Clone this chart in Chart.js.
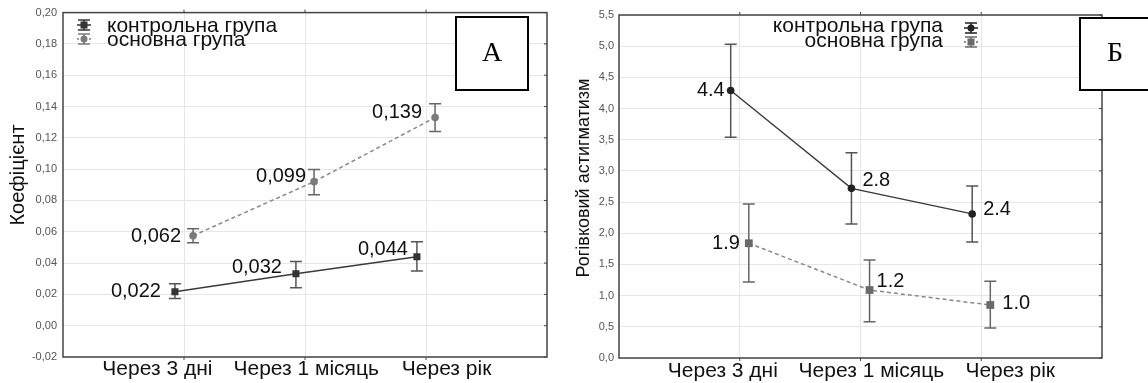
<!DOCTYPE html>
<html>
<head>
<meta charset="utf-8">
<script src="https://cdn.jsdelivr.net/npm/chart.js@4.4.0/dist/chart.umd.min.js"></script>
<style>
  html, body { margin: 0; padding: 0; background: #fff; }
  #wrap { position: relative; width: 1148px; height: 383px; overflow: hidden; }
  #chartA { position: absolute; left: 0; top: 0; }
  #chartB { position: absolute; left: 560px; top: 0; }
</style>
</head>
<body>
<div id="wrap">
  <canvas id="chartA" width="560" height="383"></canvas>
  <canvas id="chartB" width="588" height="383"></canvas>
</div>
<script>
// ==================== ДАНІ ====================

const categories = ['Через 3 дні', 'Через 1 місяць', 'Через рік'];
const legendNames = ['контрольна група', 'основна група'];

// Панель А – коефіцієнт
const coefCtrl = [0.0217, 0.0332, 0.044];
const coefCtrlLow = [0.0173, 0.0243, 0.035];
const coefCtrlHigh = [0.0268, 0.041, 0.0537];
const coefCtrlLabels = ['0,022', '0,032', '0,044'];

const coefMain = [0.0575, 0.092, 0.133];
const coefMainLow = [0.053, 0.0837, 0.124];
const coefMainHigh = [0.062, 0.0997, 0.1418];
const coefMainLabels = ['0,062', '0,099', '0,139'];

// Панель Б – рогівковий астигматизм
const astCtrl = [4.29, 2.72, 2.31];
const astCtrlLow = [3.54, 2.15, 1.86];
const astCtrlHigh = [5.03, 3.29, 2.76];
const astCtrlLabels = ['4.4', '2.8', '2.4'];

const astMain = [1.84, 1.09, 0.85];
const astMainLow = [1.22, 0.58, 0.48];
const astMainHigh = [2.47, 1.57, 1.23];
const astMainLabels = ['1.9', '1.2', '1.0'];

const FONT = "'Liberation Sans', Arial, sans-serif";
const SERIF = "'Liberation Serif', 'Times New Roman', serif";

// точки: позиція категорії (1..3) + невеликий зсув групи
function toPoints(values, dodge) {
  return values.map((v, i) => ({ x: i + 1 + dodge, y: v }));
}

// ==================== ПЛАГІНИ ====================

const errorBarsPlugin = {
  id: 'errorBars',
  beforeDatasetsDraw(chart) {
    const ctx = chart.ctx;
    const yScale = chart.scales.y;
    chart.data.datasets.forEach((ds, i) => {
      if (!ds.errLow) return;
      const meta = chart.getDatasetMeta(i);
      ctx.save();
      ctx.strokeStyle = ds.errColor;
      ctx.lineWidth = 1.5;
      meta.data.forEach((pt, j) => {
        const yl = yScale.getPixelForValue(ds.errLow[j]);
        const yh = yScale.getPixelForValue(ds.errHigh[j]);
        ctx.beginPath();
        ctx.moveTo(pt.x, yl); ctx.lineTo(pt.x, yh);
        ctx.moveTo(pt.x - 6, yl); ctx.lineTo(pt.x + 6, yl);
        ctx.moveTo(pt.x - 6, yh); ctx.lineTo(pt.x + 6, yh);
        ctx.stroke();
      });
      ctx.restore();
    });
  }
};

const valueLabelsPlugin = {
  id: 'valueLabels',
  afterDatasetsDraw(chart) {
    const ctx = chart.ctx;
    chart.data.datasets.forEach((ds, i) => {
      if (!ds.valueLabels) return;
      const meta = chart.getDatasetMeta(i);
      ctx.save();
      ctx.font = '20px ' + FONT;
      ctx.fillStyle = '#111';
      ctx.textBaseline = 'middle';
      meta.data.forEach((pt, j) => {
        const off = ds.labelOffsets[j];
        ctx.textAlign = off[0] < 0 ? 'right' : 'left';
        ctx.fillText(ds.valueLabels[j], pt.x + off[0], pt.y + off[1]);
      });
      ctx.restore();
    });
  }
};

function drawIcon(ctx, cx, cy, item) {
  ctx.save();
  ctx.strokeStyle = item.color;
  ctx.lineWidth = 1.5;
  if (item.dashed) ctx.setLineDash([2, 2]);
  ctx.beginPath();
  ctx.moveTo(cx - 7, cy); ctx.lineTo(cx + 7, cy);
  ctx.stroke();
  ctx.setLineDash([]);
  ctx.beginPath();
  ctx.moveTo(cx - 6, cy - 5); ctx.lineTo(cx + 6, cy - 5);
  ctx.moveTo(cx - 6, cy + 5); ctx.lineTo(cx + 6, cy + 5);
  ctx.moveTo(cx, cy - 5); ctx.lineTo(cx, cy + 5);
  ctx.stroke();
  ctx.fillStyle = item.color;
  if (item.marker === 'rect') ctx.fillRect(cx - 3.5, cy - 3.5, 7, 7);
  else { ctx.beginPath(); ctx.arc(cx, cy, 3.5, 0, Math.PI * 2); ctx.fill(); }
  ctx.restore();
}

const framePlugin = {
  id: 'frame',
  afterDraw(chart, args, opts) {
    const ctx = chart.ctx;
    const a = chart.chartArea;
    const xs = chart.scales.x, ys = chart.scales.y;
    ctx.save();
    // рамка області побудови
    ctx.strokeStyle = '#444';
    ctx.lineWidth = 1.5;
    ctx.strokeRect(a.left, a.top, a.right - a.left, a.bottom - a.top);
    // дрібні засічки
    ctx.lineWidth = 1;
    ctx.beginPath();
    ys.ticks.forEach(t => {
      const py = ys.getPixelForValue(t.value);
      ctx.moveTo(a.right, py); ctx.lineTo(a.right - 3, py);
    });
    [1, 2, 3].forEach(v => {
      const px = xs.getPixelForValue(v);
      ctx.moveTo(px, a.top); ctx.lineTo(px, a.top - 3);
      ctx.moveTo(px, a.bottom); ctx.lineTo(px, a.bottom + 3);
    });
    ctx.stroke();

    // назва осі Y
    const t = opts.yTitle;
    ctx.save();
    ctx.translate(t.x, t.y);
    ctx.rotate(-Math.PI / 2);
    ctx.font = t.size + 'px ' + FONT;
    ctx.fillStyle = '#111';
    ctx.textAlign = 'center';
    ctx.textBaseline = 'middle';
    ctx.fillText(t.text, 0, 0);
    ctx.restore();

    // легенда
    const lg = opts.legend;
    ctx.font = '21px ' + FONT;
    ctx.fillStyle = '#111';
    ctx.textBaseline = 'alphabetic';
    ctx.textAlign = lg.align;
    lg.items.forEach((item, k) => {
      ctx.fillText(item.label, lg.textX, lg.baselines[k]);
      drawIcon(ctx, lg.iconX, lg.iconY[k], item);
    });

    // рамка з літерою
    const b = opts.letterBox;
    ctx.fillStyle = '#fff';
    ctx.fillRect(b.x, b.y, b.w, b.h);
    ctx.strokeStyle = '#000';
    ctx.lineWidth = 2;
    ctx.strokeRect(b.x, b.y, b.w, b.h);
    ctx.fillStyle = '#000';
    ctx.font = '28px ' + SERIF;
    ctx.textAlign = 'center';
    ctx.textBaseline = 'middle';
    ctx.fillText(b.text, b.x + b.w / 2, b.y + b.h / 2);
    ctx.restore();
  }
};

// ==================== ПОБУДОВА ====================

function makePanel(canvasId, cfg) {
  return new Chart(document.getElementById(canvasId), {
    type: 'line',
    data: { datasets: cfg.datasets },
    options: {
      responsive: false,
      animation: false,
      layout: { padding: cfg.padding },
      plugins: {
        legend: { display: false },
        tooltip: { enabled: false },
        frame: { legend: cfg.legend, letterBox: cfg.letterBox, yTitle: cfg.yTitle }
      },
      scales: {
        x: {
          type: 'linear',
          min: 0, max: 4,
          afterFit: s => { s.height = 0; },
          afterBuildTicks: s => { s.ticks = [0, 1, 2, 3, 4].map(v => ({ value: v })); },
          grid: {
            drawTicks: false,
            color: c => (c.tick && c.tick.value >= 1 && c.tick.value <= 3) ? '#e6e6e6' : 'rgba(0,0,0,0)'
          },
          border: { display: false },
          ticks: { display: false }
        },
        // підписи категорій (розміщені як в оригіналі)
        xl: {
          type: 'linear',
          position: 'bottom',
          min: 0, max: 4,
          afterFit: s => { s.height = cfg.xHeight; },
          afterBuildTicks: s => { s.ticks = cfg.xLabelAt.map(v => ({ value: v })); },
          grid: { display: false, drawTicks: false },
          border: { display: false },
          ticks: {
            autoSkip: false, maxRotation: 0, padding: cfg.xTickPad,
            color: '#111',
            font: { family: FONT, size: 21 },
            callback: (v, i) => categories[i]
          }
        },
        y: {
          min: cfg.yMin, max: cfg.yMax,
          afterFit: s => { s.width = cfg.yWidth; },
          grid: { drawTicks: false, color: '#e6e6e6' },
          border: { display: false },
          ticks: {
            stepSize: cfg.yStep, padding: cfg.yTickPad,
            color: '#555',
            font: { family: FONT, size: 11 },
            callback: v => v.toFixed(cfg.yDecimals).replace('.', ',')
          }
        }
      }
    },
    plugins: [errorBarsPlugin, valueLabelsPlugin, framePlugin]
  });
}

makePanel('chartA', {
  padding: { top: 12, right: 13, left: 0, bottom: 0 },
  xHeight: 26, xTickPad: 0, yWidth: 63, yTickPad: 6,
  xLabelAt: [0.78, 2.01, 3.17],
  yMin: -0.02, yMax: 0.2, yStep: 0.02, yDecimals: 2,
  yTitle: { text: 'Коефіцієнт', x: 18, y: 175, size: 20 },
  datasets: [
    {
      data: toPoints(coefCtrl, -0.075),
      borderColor: '#3a3a3a', borderWidth: 1.4,
      pointStyle: 'rect', pointRadius: 5, pointBackgroundColor: '#333', pointBorderWidth: 0,
      errLow: coefCtrlLow, errHigh: coefCtrlHigh, errColor: '#555',
      valueLabels: coefCtrlLabels,
      labelOffsets: [[-14, 0], [-14, -6], [-9, -7]]
    },
    {
      data: toPoints(coefMain, 0.075),
      borderColor: '#888', borderWidth: 1.5, borderDash: [4, 3],
      pointStyle: 'circle', pointRadius: 3.8, pointBackgroundColor: '#7a7a7a', pointBorderWidth: 0,
      errLow: coefMainLow, errHigh: coefMainHigh, errColor: '#666',
      valueLabels: coefMainLabels,
      labelOffsets: [[-12, 1], [-8, -5], [-13, -5]]
    }
  ],
  legend: {
    align: 'left', textX: 107, baselines: [32, 46], iconX: 84, iconY: [25, 39],
    items: [
      { label: legendNames[0], marker: 'rect', color: '#333' },
      { label: legendNames[1], marker: 'circle', color: '#7a7a7a', dashed: true }
    ]
  },
  letterBox: { x: 456, y: 17, w: 72, h: 73, text: 'А' }
});

makePanel('chartB', {
  padding: { top: 15, right: 46, left: 0, bottom: 0 },
  xHeight: 25, xTickPad: 1, yWidth: 59, yTickPad: 5,
  xLabelAt: [0.86, 2.09, 3.24],
  yMin: 0, yMax: 5.5, yStep: 0.5, yDecimals: 1,
  yTitle: { text: 'Рогівковий астигматизм', x: 24, y: 178, size: 18 },
  datasets: [
    {
      data: toPoints(astCtrl, -0.075),
      borderColor: '#3a3a3a', borderWidth: 1.4,
      pointStyle: 'circle', pointRadius: 3.8, pointBackgroundColor: '#222', pointBorderWidth: 0,
      errLow: astCtrlLow, errHigh: astCtrlHigh, errColor: '#555',
      valueLabels: astCtrlLabels,
      labelOffsets: [[-6, 0], [11, -8], [11, -4]]
    },
    {
      data: toPoints(astMain, 0.075),
      borderColor: '#888', borderWidth: 1.5, borderDash: [4, 3],
      pointStyle: 'rect', pointRadius: 5.5, pointBackgroundColor: '#6a6a6a', pointBorderWidth: 0,
      errLow: astMainLow, errHigh: astMainHigh, errColor: '#666',
      valueLabels: astMainLabels,
      labelOffsets: [[-9, 0], [7, -9], [12, -2]]
    }
  ],
  legend: {
    align: 'right', textX: 383, baselines: [32, 47], iconX: 411, iconY: [28, 42],
    items: [
      { label: legendNames[0], marker: 'circle', color: '#222' },
      { label: legendNames[1], marker: 'rect', color: '#6a6a6a', dashed: true }
    ]
  },
  letterBox: { x: 520, y: 18, w: 70, h: 72, text: 'Б' }
});
</script>
</body>
</html>
